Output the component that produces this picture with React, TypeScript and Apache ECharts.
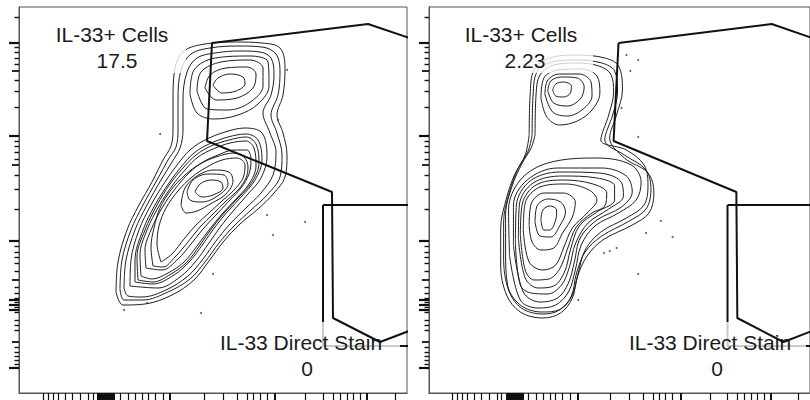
import React, { useEffect, useRef } from "react";
import * as echarts from "echarts";

type Pt = [number, number];

// ---- axis ticks (display channel units: x 0..388, y 0..386) ----
const yMajorTicks = [350, 257, 152, 93, 88, 83, 25];
const yMediumTicks = [322, 228, 113, 51];
const yMinorTicks = [376, 346, 341, 335, 329, 313, 302, 286, 252, 247, 241, 234, 218, 204, 184, 147, 141, 136, 130, 122, 106, 100, 95, 91, 86, 81, 73, 68, 63, 46, 41, 37, 33, 29];
const xMajorTicks = [151, 256, 348, 79, 81, 83, 85, 87, 89, 91, 93, 95];
const xMinorTicks = [24, 29, 34, 39, 46, 53, 61, 69, 74, 101, 109, 116, 123, 129, 136, 144, 185, 204, 218, 228, 234, 241, 248, 286, 304, 314, 321, 328, 334, 341, 376];

// ---- gates ----
const gatePositive: Pt[] = [[193, 350], [349, 369], [411, 348], [411, 70], [361, 51], [314, 75], [313, 201], [188, 252], [193, 350]];
const gateDirect: Pt[] = [[304, 188], [411, 188], [411, 47], [304, 47], [304, 188]];

// ---- gate labels ----
const gateNames = ["IL-33+ Cells", "IL-33 Direct Stain"];
const leftFreqs = ["17.5", "0"];
const rightFreqs = ["2.23", "0"];

// ---- left panel contours ----
const leftUpperContours: Pt[][] = [
  [[194, 308], [199, 315], [211, 319], [224, 316], [226, 309], [217, 302], [203, 300]],
  [[186, 305], [191, 318], [207, 325], [228, 326], [237, 319], [234, 305], [218, 295], [197, 293]],
  [[178, 302], [182, 321], [202, 331], [231, 333], [244, 325], [244, 307], [230, 290], [209, 283], [188, 284]],
  [[171, 299], [175, 323], [196, 335], [231, 337], [249, 331], [250, 307], [239, 289], [219, 278], [195, 274], [178, 280]],
];
const leftEnclosingContours: Pt[][] = [
  [[105, 105], [107, 133], [116, 163], [128, 188], [142, 213], [153, 231], [161, 245], [164, 263], [164, 293], [168, 321], [178, 335], [196, 340], [221, 342], [241, 341], [252, 335], [255, 318], [252, 298], [244, 280], [251, 260], [257, 241], [254, 218], [242, 200], [227, 185], [211, 169], [197, 152], [184, 134], [169, 117], [147, 103], [123, 96], [109, 97]],
  [[101, 104], [103, 133], [112, 163], [124, 188], [138, 213], [149, 233], [157, 246], [159, 263], [159, 293], [162, 323], [172, 339], [191, 345], [219, 347], [243, 346], [257, 339], [261, 321], [259, 298], [252, 278], [258, 260], [263, 238], [261, 216], [248, 198], [232, 183], [215, 167], [200, 150], [186, 131], [171, 114], [149, 101], [124, 93], [105, 93]],
  [[97, 101], [99, 131], [108, 163], [120, 188], [133, 211], [144, 233], [152, 247], [154, 263], [154, 293], [156, 325], [165, 342], [186, 349], [216, 351], [243, 350], [261, 345], [266, 325], [264, 298], [258, 278], [264, 260], [268, 238], [266, 216], [255, 200], [239, 184], [221, 169], [205, 152], [190, 132], [175, 113], [153, 98], [126, 89], [104, 88]],
];
const leftLowerContours: Pt[][] = [
  [[176, 201], [181, 209], [192, 213], [202, 211], [204, 205], [194, 198], [183, 196]],
  [[168, 201], [174, 213], [189, 219], [205, 218], [209, 209], [200, 198], [183, 191], [171, 193]],
  [[162, 188], [166, 205], [178, 217], [195, 223], [210, 221], [214, 212], [207, 199], [193, 190], [178, 182], [167, 180]],
  [[142, 131], [138, 149], [140, 167], [147, 185], [159, 202], [173, 216], [188, 226], [203, 233], [218, 235], [226, 228], [224, 215], [215, 203], [203, 192], [190, 180], [177, 168], [165, 154], [153, 139]],
  [[134, 127], [132, 146], [135, 165], [141, 185], [152, 203], [166, 218], [181, 229], [197, 236], [215, 240], [225, 236], [229, 226], [227, 215], [219, 203], [207, 192], [194, 179], [181, 166], [169, 151], [156, 136], [144, 126]],
  [[127, 125], [126, 143], [132, 163], [143, 185], [156, 204], [170, 220], [184, 231], [199, 238], [215, 243], [228, 243], [232, 233], [230, 219], [222, 205], [210, 192], [197, 178], [184, 164], [172, 149], [159, 134], [143, 123]],
  [[122, 117], [121, 138], [128, 163], [140, 187], [153, 207], [166, 223], [179, 236], [194, 244], [211, 250], [227, 252], [235, 245], [237, 227], [230, 209], [217, 194], [203, 179], [190, 163], [178, 147], [165, 131], [149, 120], [133, 114]],
  [[119, 113], [118, 136], [126, 163], [138, 188], [151, 209], [164, 225], [177, 238], [192, 247], [210, 253], [227, 256], [237, 249], [240, 230], [233, 211], [220, 196], [206, 181], [193, 165], [181, 148], [168, 131], [152, 119], [134, 111]],
  [[116, 111], [116, 133], [124, 163], [136, 188], [150, 210], [162, 226], [175, 240], [190, 249], [209, 256], [227, 259], [239, 253], [243, 233], [236, 213], [223, 197], [209, 182], [196, 166], [184, 149], [171, 132], [155, 118], [134, 109]],
  [[111, 107], [112, 133], [120, 163], [132, 188], [146, 211], [158, 228], [171, 243], [186, 253], [206, 261], [226, 265], [243, 260], [248, 237], [242, 215], [229, 199], [215, 183], [202, 167], [190, 150], [177, 132], [161, 116], [139, 105]],
];
const leftDots: Pt[] = [[248, 178], [286, 171], [254, 158], [194, 119], [182, 80], [105, 83], [128, 90], [141, 259], [259, 273], [268, 323]];

// ---- right panel contours ----
const rightUpperContours: Pt[][] = [
  [[126, 303], [129, 309], [137, 311], [145, 307], [144, 300], [137, 296], [129, 297]],
  [[121, 302], [124, 312], [135, 316], [151, 315], [158, 306], [154, 294], [141, 287], [127, 290]],
  [[118, 299], [121, 313], [133, 319], [153, 319], [165, 311], [166, 297], [157, 284], [141, 277], [126, 281]],
  [[114, 295], [117, 315], [131, 323], [155, 324], [171, 317], [174, 300], [166, 283], [151, 272], [133, 268], [120, 276]],
];
const rightEnclosingContours: Pt[][] = [
  [[108, 258], [109, 298], [113, 318], [127, 328], [151, 330], [173, 327], [185, 319], [188, 301], [183, 278], [175, 253], [201, 243], [219, 228], [223, 208], [219, 188], [201, 175], [175, 161], [159, 143], [152, 120], [146, 98], [134, 84], [115, 81], [93, 88], [80, 108], [78, 143], [78, 178], [85, 208], [95, 230], [104, 245]],
  [[105, 258], [106, 298], [110, 321], [125, 331], [151, 333], [176, 330], [189, 322], [192, 301], [187, 278], [179, 253], [199, 238], [221, 223], [226, 203], [221, 184], [204, 172], [176, 157], [159, 141], [150, 119], [145, 97], [133, 83], [116, 79], [94, 85], [81, 103], [76, 135], [76, 171], [82, 201], [91, 225], [101, 242]],
  [[102, 258], [103, 298], [107, 323], [123, 335], [151, 338], [179, 335], [193, 327], [197, 303], [191, 278], [184, 255], [199, 235], [223, 220], [229, 200], [224, 180], [207, 168], [177, 153], [161, 137], [151, 116], [146, 95], [134, 80], [116, 75], [93, 81], [79, 98], [73, 128], [73, 165], [79, 195], [87, 218], [98, 238]],
];
const rightLowerContours: Pt[][] = [
  [[114, 173], [116, 183], [123, 187], [130, 183], [129, 173], [123, 163], [117, 163]],
  [[108, 171], [110, 187], [121, 194], [134, 191], [139, 181], [133, 167], [124, 156], [113, 157]],
  [[102, 168], [104, 189], [117, 200], [137, 200], [149, 191], [146, 176], [136, 160], [127, 145], [114, 143], [105, 151]],
  [[96, 163], [98, 190], [113, 206], [139, 209], [163, 203], [171, 193], [161, 180], [146, 165], [137, 145], [129, 128], [116, 123], [102, 131]],
  [[93, 159], [95, 189], [109, 208], [137, 213], [167, 209], [181, 200], [179, 187], [166, 180], [150, 166], [141, 144], [133, 124], [122, 114], [107, 113], [98, 123]],
  [[91, 155], [92, 188], [106, 210], [136, 217], [171, 215], [189, 207], [189, 193], [171, 181], [153, 167], [144, 143], [138, 121], [127, 107], [111, 105], [98, 115]],
  [[88, 151], [89, 188], [103, 212], [133, 221], [173, 220], [195, 212], [198, 197], [183, 184], [162, 170], [149, 149], [143, 126], [135, 108], [121, 99], [104, 100], [93, 108]],
  [[86, 148], [86, 188], [100, 213], [131, 225], [176, 225], [201, 217], [207, 201], [196, 186], [171, 173], [154, 155], [148, 131], [142, 110], [131, 95], [113, 91], [96, 101]],
  [[82, 138], [81, 183], [93, 213], [121, 230], [171, 235], [206, 228], [216, 211], [211, 193], [193, 180], [169, 167], [155, 148], [149, 123], [142, 101], [129, 88], [111, 85], [93, 93]],
];
const rightDots: Pt[] = [[201, 338], [213, 333], [205, 322], [196, 285], [213, 256], [236, 172], [221, 160], [248, 156], [178, 140], [184, 142], [191, 145], [213, 119], [152, 93]];

const FONT = '"Liberation Sans", Arial, Helvetica, sans-serif';

export default function App() {
  const ref = useRef<HTMLDivElement>(null);

  useEffect(() => {
    if (!ref.current) return;
    const chart = echarts.init(ref.current, undefined, { renderer: "svg" });

    const panelLefts = [19, 429];
    const grids = panelLefts.map((l) => ({
      left: l, top: 7, width: 388, height: 386,
      show: true, borderColor: "#555", borderWidth: 1, backgroundColor: "transparent",
    }));

    const tickAxis = (kind: "x" | "y", gi: number, values: number[], len: number, w: number) => ({
      type: "value",
      gridIndex: gi,
      min: 0,
      max: kind === "x" ? 388 : 386,
      position: kind === "x" ? "bottom" : "left",
      axisLine: { show: true, onZero: false, lineStyle: { color: "#555", width: 1 } },
      splitLine: { show: false },
      axisLabel: { show: false },
      axisTick: { show: true, inside: false, length: len, customValues: values, lineStyle: { color: "#111", width: w } },
    });

    const xAxis: any[] = [];
    const yAxis: any[] = [];
    [0, 1].forEach((gi) => {
      xAxis.push(tickAxis("x", gi, xMajorTicks, 10, 2));
      xAxis.push(tickAxis("x", gi, xMinorTicks, 8, 1.2));
      yAxis.push(tickAxis("y", gi, yMajorTicks, 10, 2.2));
      yAxis.push(tickAxis("y", gi, yMediumTicks, 7, 1.8));
      yAxis.push(tickAxis("y", gi, yMinorTicks, 4.5, 1.4));
    });

    const contourSeries = (loops: Pt[][], gi: number) =>
      loops.map((pts) => ({
        type: "line",
        xAxisIndex: gi * 2,
        yAxisIndex: gi * 3,
        data: [...pts, pts[0]],
        showSymbol: false,
        symbol: "none",
        smooth: 0.35,
        lineStyle: { color: "#1f1f1f", width: 1 },
        z: 2,
        silent: true,
      }));

    const gateSeries = (pts: Pt[], gi: number, z: number) => ({
      type: "line",
      xAxisIndex: gi * 2,
      yAxisIndex: gi * 3,
      data: pts,
      showSymbol: false,
      symbol: "none",
      smooth: false,
      clip: true,
      lineStyle: { color: "#111", width: 2 },
      z,
      silent: true,
    });

    const dotSeries = (pts: Pt[], gi: number) => ({
      type: "scatter",
      xAxisIndex: gi * 2,
      yAxisIndex: gi * 3,
      data: pts,
      symbolSize: 2,
      itemStyle: { color: "#333" },
      z: 2,
      silent: true,
    });

    const series: any[] = [
      ...contourSeries(leftUpperContours, 0),
      ...contourSeries(leftEnclosingContours, 0),
      ...contourSeries(leftLowerContours, 0),
      ...contourSeries(rightUpperContours, 1),
      ...contourSeries(rightEnclosingContours, 1),
      ...contourSeries(rightLowerContours, 1),
      dotSeries(leftDots, 0),
      dotSeries(rightDots, 1),
      gateSeries(gateDirect, 0, 3),
      gateSeries(gateDirect, 1, 3),
      gateSeries(gatePositive, 0, 10),
      gateSeries(gatePositive, 1, 10),
    ];

    const box = (x: number, y: number, w: number, h: number) => ({
      type: "rect",
      shape: { x, y, width: w, height: h },
      style: { fill: "rgba(255,255,255,0.78)" },
      z: 5,
      silent: true,
    });
    const txt = (x: number, y: number, text: string) => ({
      type: "text",
      x,
      y,
      style: { text, fontSize: 21, fontFamily: FONT, fill: "#1a1a1a", align: "center", verticalAlign: "middle" },
      z: 6,
      silent: true,
    });

    const graphic = [
      box(41, 21, 145, 52),
      box(451, 21, 142, 52),
      box(206, 322, 194, 60),
      box(612, 322, 194, 60),
      txt(112, 34, gateNames[0]),
      txt(117, 60, leftFreqs[0]),
      txt(521, 34, gateNames[0]),
      txt(525, 60, rightFreqs[0]),
      txt(301, 342, gateNames[1]),
      txt(307, 368, leftFreqs[1]),
      txt(710, 342, gateNames[1]),
      txt(717, 368, rightFreqs[1]),
    ];

    chart.setOption({
      animation: false,
      backgroundColor: "#ffffff",
      grid: grids,
      xAxis,
      yAxis,
      series,
      graphic,
    });

    return () => chart.dispose();
  }, []);

  return <div ref={ref} style={{ position: "absolute", left: 0, top: 0, width: 810, height: 400 }} />;
}
